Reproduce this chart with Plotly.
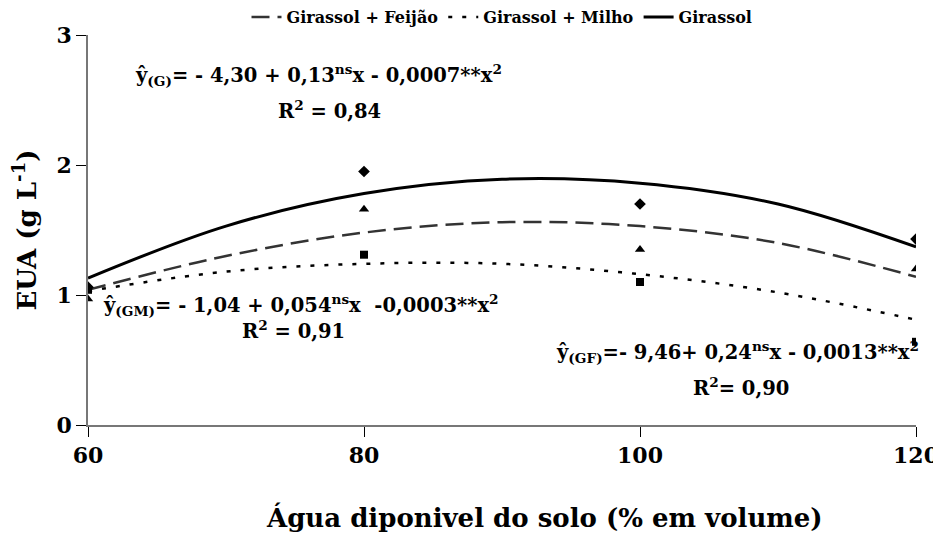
import plotly.graph_objects as go

# water availability levels (% by volume)
agua = [60, 80, 100, 120]

# observed EUA (g L-1)
obs_girassol = [1.06, 1.95, 1.70, 1.43]
obs_feijao = [0.97, 1.66, 1.35, 1.20]
obs_milho = [1.04, 1.31, 1.10, 0.64]

# fitted curves
x_fit = [60, 70, 80, 90, 100, 110, 120]
fit_girassol = [1.13, 1.53, 1.78, 1.89, 1.86, 1.70, 1.37]
fit_feijao = [1.04, 1.30, 1.48, 1.56, 1.53, 1.40, 1.14]
fit_milho = [1.03, 1.18, 1.24, 1.24, 1.16, 1.02, 0.81]

y_ticks = [0, 1, 2, 3]
x_ticks = [60, 80, 100, 120]

# the only serif face that actually renders in the sandbox
FONT = "DejaVu Serif"

fig = go.Figure()

# legend/line traces
fig.add_trace(go.Scatter(x=x_fit, y=fit_feijao, mode="lines", name="<b>Girassol + Feijão</b>",
                         line=dict(color="#333333", width=2.5, dash="18px,8px"), line_shape="spline"))
fig.add_trace(go.Scatter(x=x_fit, y=fit_milho, mode="lines", name="<b>Girassol + Milho</b>",
                         line=dict(color="black", width=2.5, dash="4px,10px"), line_shape="spline"))
fig.add_trace(go.Scatter(x=x_fit, y=fit_girassol, mode="lines", name="<b>Girassol</b>",
                         line=dict(color="black", width=3), line_shape="spline"))

# observed points
fig.add_trace(go.Scatter(x=agua, y=obs_girassol, mode="markers", showlegend=False,
                         marker=dict(symbol="diamond", size=9, color="black")))
fig.add_trace(go.Scatter(x=agua, y=obs_feijao, mode="markers", showlegend=False,
                         marker=dict(symbol="triangle-up", size=9, color="black")))
fig.add_trace(go.Scatter(x=agua, y=obs_milho, mode="markers", showlegend=False,
                         marker=dict(symbol="square", size=8, color="black")))

eq_font = dict(family=FONT, size=19.5, color="black")
anns = [
    (63.27, 2.69, "left", "ŷ<sub>(G)</sub>= - 4,30 + 0,13<sup>ns</sup>x - 0,0007**x<sup>2</sup>"),
    (77.5, 2.42, "center", "R<sup>2</sup> = 0,84"),
    (60.94, 0.92, "left", "ŷ<sub>(GM)</sub>= - 1,04 + 0,054<sup>ns</sup>x  -0,0003**x<sup>2</sup>"),
    (74.9, 0.73, "center", "R<sup>2</sup> = 0,91"),
    (93.77, 0.56, "left", "ŷ<sub>(GF)</sub>=- 9,46+ 0,24<sup>ns</sup>x - 0,0013**x<sup>2</sup>"),
    (107.35, 0.29, "center", "R<sup>2</sup>= 0,90"),
]
for ax, ay, anchor, txt in anns:
    fig.add_annotation(x=ax, y=ay, xref="x", yref="y", text="<b>" + txt + "</b>", showarrow=False,
                       xanchor=anchor, yanchor="middle", font=eq_font)

# x axis title sits a little right of the plot centre in the original
fig.add_annotation(x=0.551, y=-0.236, xref="paper", yref="paper", showarrow=False,
                   text="<b>Água diponivel do solo (% em volume)</b>", xanchor="center", yanchor="middle",
                   font=dict(family=FONT, size=26, color="black"))

# the page adds an 8px body margin, so the figure is shifted by 8px
fig.update_layout(
    width=933, height=525,
    margin=dict(l=80, r=25, t=27, b=108, autoexpand=False),
    paper_bgcolor="white", plot_bgcolor="white",
    font=dict(family=FONT, color="black"),
    showlegend=True,
    legend=dict(orientation="h", x=0.5, xanchor="center", y=1.046, yanchor="middle",
                font=dict(family=FONT, size=16, color="black"), itemwidth=30,
                bgcolor="rgba(0,0,0,0)"),
    xaxis=dict(range=[60, 120], tickvals=x_ticks, ticktext=[f"<b>{v}</b>" for v in x_ticks],
               showgrid=False, zeroline=False, showline=True, linecolor="#777777", linewidth=1.5,
               ticks="outside", ticklen=10, tickcolor="black", ticklabeloverflow="allow",
               tickfont=dict(family=FONT, size=22)),
    yaxis=dict(range=[0, 3], tickvals=y_ticks, ticktext=[f"<b>{v}</b>" for v in y_ticks],
               showgrid=False, zeroline=False, showline=True, linecolor="#777777", linewidth=1.5,
               ticks="outside", ticklen=10, tickcolor="black", ticklabeloverflow="allow",
               tickfont=dict(family=FONT, size=22),
               title=dict(text="<b>EUA (g L<sup>-1</sup>)</b>", font=dict(family=FONT, size=26), standoff=18)),
)

fig.write_html("out.html")
